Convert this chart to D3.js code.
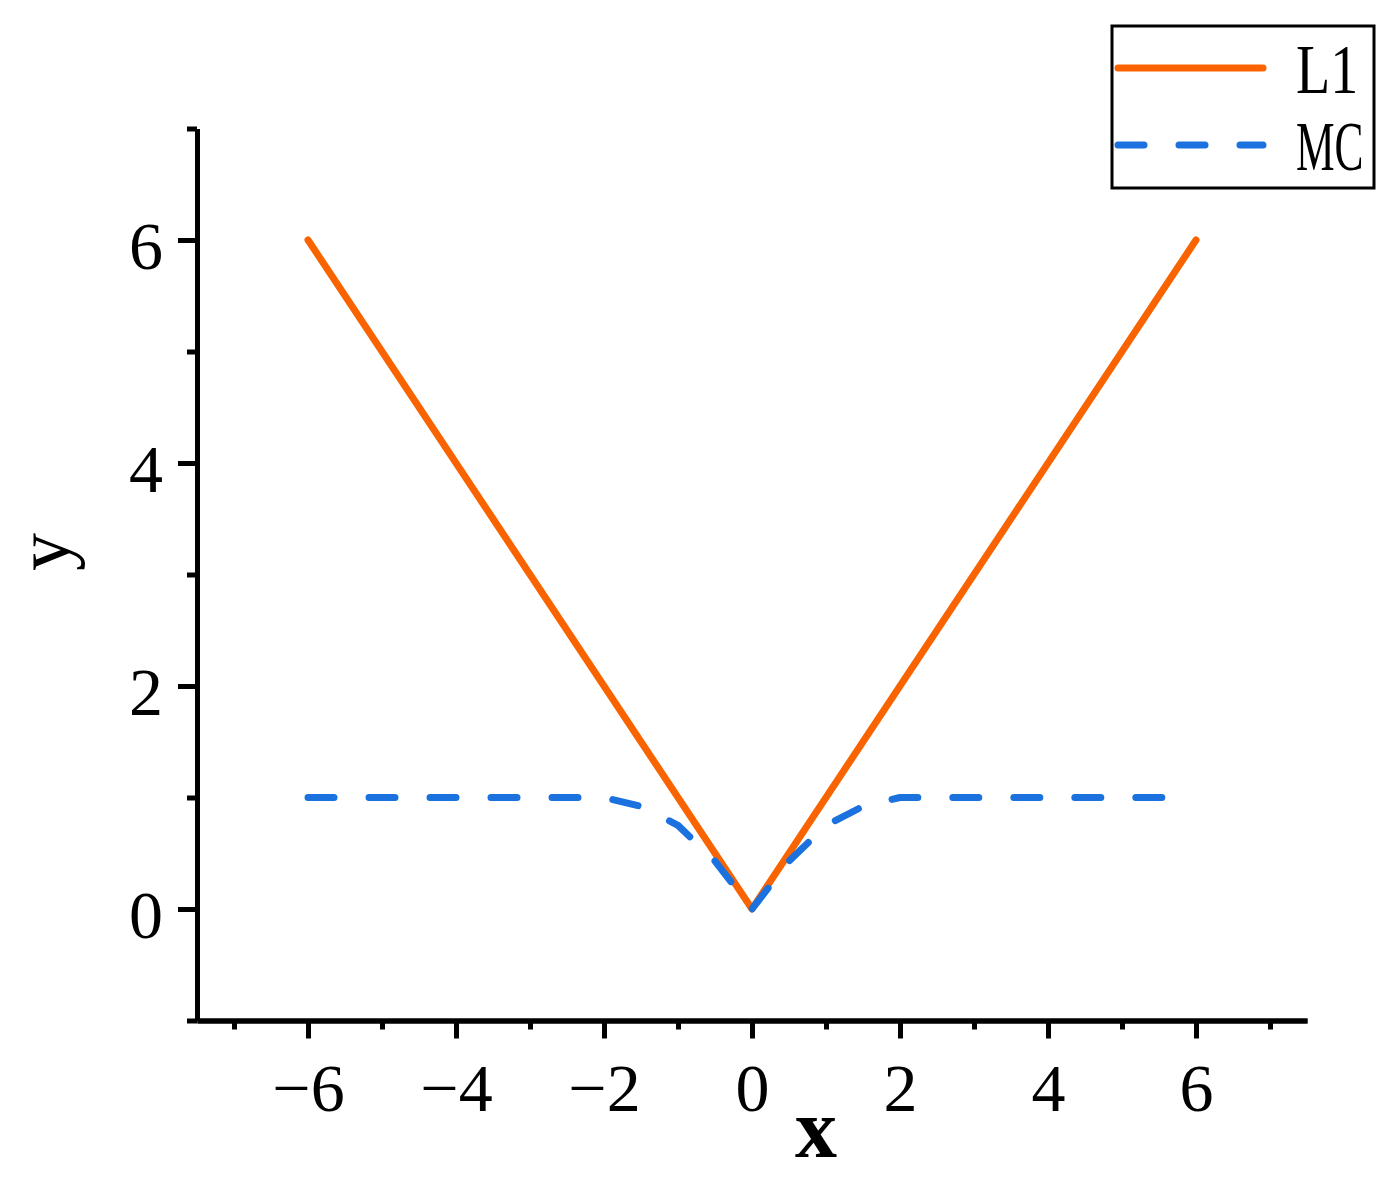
<!DOCTYPE html>
<html>
<head>
<meta charset="utf-8">
<script src="https://cdn.jsdelivr.net/npm/d3@7"></script>
<style>
  body { margin: 0; background: #fff; }
  svg { display: block; }
  .axis path, .axis line { stroke: #000; stroke-width: 5; }
  .axis text { font-family: "Liberation Serif", "DejaVu Serif", serif; font-size: 68px; fill: #000; }
</style>
</head>
<body>
<svg id="chart" width="1393" height="1177"></svg>
<script>
// L1 loss
const l1X = [-6, 0, 6];
const l1Y = [6, 0, 6];

// MC loss
const mcX = [-6, -5, -4, -3, -2, -1.5, -1, -0.5, 0, 0.5, 1, 1.5, 2, 3, 4, 5, 6];
const mcY = [1, 1, 1, 1, 1, 0.92, 0.75, 0.43, 0, 0.43, 0.75, 0.92, 1, 1, 1, 1, 1];

const xMajor = [-6, -4, -2, 0, 2, 4, 6];
const xMinor = [-7, -5, -3, -1, 1, 3, 5, 7];
const yMajor = [0, 2, 4, 6];
const yMinor = [-1, 1, 3, 5, 7];

const seriesNames = ["L1", "MC"];
const colors = { L1: "#f96400", MC: "#1b72df" };

var svg = d3.select("#chart");

var x = d3.scaleLinear().domain([-7.5, 7.5]).range([197, 1307]),
  y = d3.scaleLinear().domain([-1, 7]).range([1020.5, 128.5]);

const fmt = d3.format("d");

// x axis
svg
  .append("g")
  .attr("class", "axis")
  .attr("transform", `translate(0,${y(-1)})`)
  .call(d3.axisBottom(x).tickValues(xMinor).tickSize(9).tickSizeOuter(0).tickFormat(""));

var gx = svg
  .append("g")
  .attr("class", "axis")
  .attr("transform", `translate(0,${y(-1)})`)
  .call(d3.axisBottom(x).tickValues(xMajor).tickSize(18).tickSizeOuter(0).tickFormat(fmt));
gx.selectAll("text").attr("y", 90).attr("dy", 0);

// y axis
svg
  .append("g")
  .attr("class", "axis")
  .attr("transform", `translate(${x(-7.5)},0)`)
  .call(d3.axisLeft(y).tickValues(yMinor).tickSize(10).tickSizeOuter(0).tickFormat(""));

var gy = svg
  .append("g")
  .attr("class", "axis")
  .attr("transform", `translate(${x(-7.5)},0)`)
  .call(d3.axisLeft(y).tickValues(yMajor).tickSize(19).tickSizeOuter(0).tickFormat(fmt));
gy.selectAll("text").attr("x", -34).attr("y", 28).attr("dy", 0);

// axis titles
svg
  .append("text")
  .attr("x", 816)
  .attr("y", 1157)
  .attr("text-anchor", "middle")
  .style("font-family", "Liberation Serif, serif")
  .style("font-size", "84px")
  .style("font-weight", "bold")
  .text("x");

svg
  .append("text")
  .attr("transform", "translate(69,552) rotate(-90)")
  .attr("text-anchor", "middle")
  .style("font-family", "Liberation Serif, serif")
  .style("font-size", "76px")
  .text("y");

// lines
const line = d3
  .line()
  .x(d => x(d[0]))
  .y(d => y(d[1]));

svg
  .append("path")
  .datum(d3.zip(l1X, l1Y))
  .attr("d", line)
  .attr("fill", "none")
  .attr("stroke", colors.L1)
  .attr("stroke-width", 7)
  .attr("stroke-linecap", "round")
  .attr("stroke-linejoin", "round");

svg
  .append("path")
  .datum(d3.zip(mcX, mcY))
  .attr("d", line)
  .attr("fill", "none")
  .attr("stroke", colors.MC)
  .attr("stroke-width", 7)
  .attr("stroke-linecap", "round")
  .attr("stroke-linejoin", "round")
  .attr("stroke-dasharray", "26 35");

// legend
var lg = svg.append("g").attr("transform", "translate(1112,26)");
lg
  .append("rect")
  .attr("width", 262)
  .attr("height", 162)
  .attr("fill", "#fff")
  .attr("stroke", "#000")
  .attr("stroke-width", 3);

seriesNames.forEach((name, i) => {
  var rowY = 42 + i * 77;
  lg
    .append("line")
    .attr("x1", 6)
    .attr("x2", 151)
    .attr("y1", rowY)
    .attr("y2", rowY)
    .attr("stroke", colors[name])
    .attr("stroke-width", 7)
    .attr("stroke-linecap", "round")
    .attr("stroke-dasharray", name === "MC" ? "26 35" : null);
  lg
    .append("text")
    .attr("transform", `translate(184,${rowY + 25}) scale(${name === "MC" ? 0.62 : 0.8},1)`)
    .style("font-family", "Liberation Serif, serif")
    .style("font-size", "70px")
    .text(name);
});
</script>
</body>
</html>
